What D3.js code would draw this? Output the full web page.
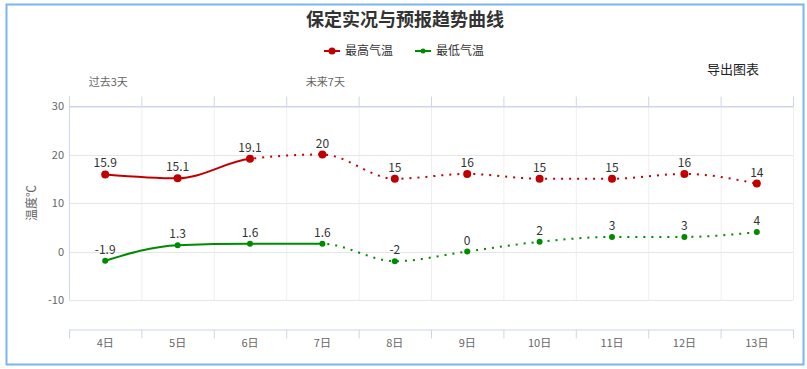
<!DOCTYPE html>
<html>
<head>
<meta charset="utf-8">
<script src="https://cdn.jsdelivr.net/npm/d3@7/dist/d3.min.js"></script>
<style>
  body { margin: 0; background: #fff; }
  text { font-family: "Noto Sans CJK SC", "Noto Sans", sans-serif; }
</style>
</head>
<body>
<div id="chart"></div>
<script>
// chart data
var days = ['4日', '5日', '6日', '7日', '8日', '9日', '10日', '11日', '12日', '13日']
var highTemps = [15.9, 15.1, 19.1, 20, 15, 16, 15, 15, 16, 14]
var lowTemps = [-1.9, 1.3, 1.6, 1.6, -2, 0, 2, 3, 3, 4]
var yTicks = [-10, 0, 10, 20, 30]
var periodLabels = [{ day: '4日', text: '过去3天' }, { day: '7日', text: '未来7天' }]

// solid part ends at this index, dotted afterwards
var highSplit = 2
var lowSplit = 3

var svgWidth = 807
var svgHeight = 369

var plot = { left: 69, right: 793, top: 106, bottom: 300 }
var bottomAxisY = 329

var svg = d3.select('#chart')
  .append('svg')
  .attr('width', svgWidth)
  .attr('height', svgHeight)

// outer frame
svg.append('rect')
  .attr('x', 6.5)
  .attr('y', 4.5)
  .attr('width', 797)
  .attr('height', 360)
  .attr('fill', '#fff')
  .attr('stroke', '#7cb5ec')
  .attr('stroke-width', 2)

var xScale = d3.scaleBand()
  .domain(days)
  .range([plot.left, plot.right])

var yScale = d3.scaleLinear()
  .domain([-10, 30])
  .range([plot.bottom, plot.top])

var cx = d => xScale(d) + xScale.bandwidth() / 2

// vertical grid lines at band edges
var edges = days.map(d => xScale(d)).concat([plot.right])
svg.append('g')
  .selectAll('line')
  .data(edges.slice(1))
  .enter()
  .append('line')
  .attr('x1', d => d + 0.5)
  .attr('x2', d => d + 0.5)
  .attr('y1', plot.top)
  .attr('y2', plot.bottom)
  .attr('stroke', '#efefef')

// horizontal grid lines
svg.append('g')
  .selectAll('line')
  .data(yTicks.filter(t => t !== 30))
  .enter()
  .append('line')
  .attr('x1', plot.left)
  .attr('x2', plot.right)
  .attr('y1', d => Math.round(yScale(d)) + 0.5)
  .attr('y2', d => Math.round(yScale(d)) + 0.5)
  .attr('stroke', '#e6e6e6')

// left axis line
svg.append('line')
  .attr('x1', plot.left + 0.5).attr('x2', plot.left + 0.5)
  .attr('y1', plot.top - 10).attr('y2', plot.bottom)
  .attr('stroke', '#ccd6eb')

// top axis (past / future)
var topAxis = d3.axisTop(xScale).tickSize(0).tickFormat('')
var topG = svg.append('g')
  .attr('transform', `translate(0, ${plot.top + 0.5})`)
  .call(topAxis)
topG.select('.domain').attr('stroke', '#ccd6eb')
topG.selectAll('.edge')
  .data(edges)
  .enter()
  .append('line')
  .attr('x1', d => d + 0.5).attr('x2', d => d + 0.5)
  .attr('y1', 0).attr('y2', -10)
  .attr('stroke', '#ccd6eb')

svg.append('g')
  .selectAll('text')
  .data(periodLabels)
  .enter()
  .append('text')
  .attr('x', d => cx(d.day) + 3)
  .attr('y', 86)
  .attr('text-anchor', 'middle')
  .style('font-size', '11px')
  .style('fill', '#666')
  .text(d => d.text)

// bottom axis
var bottomAxis = d3.axisBottom(xScale).tickSize(0).tickPadding(10)
var bottomG = svg.append('g')
  .attr('transform', `translate(0, ${bottomAxisY + 0.5})`)
  .call(bottomAxis)
bottomG.select('.domain').attr('stroke', '#ccd6eb')
bottomG.selectAll('.tick text')
  .style('font-size', '11px')
  .style('fill', '#666')
  .style('font-family', '"Noto Sans CJK SC", sans-serif')
bottomG.selectAll('.edge')
  .data(edges)
  .enter()
  .append('line')
  .attr('x1', d => d + 0.5).attr('x2', d => d + 0.5)
  .attr('y1', 0).attr('y2', 9)
  .attr('stroke', '#ccd6eb')

// left axis labels
var leftAxis = d3.axisLeft(yScale).tickValues(yTicks).tickSize(0).tickPadding(5)
var leftG = svg.append('g')
  .attr('transform', `translate(${plot.left}, 0)`)
  .call(leftAxis)
leftG.select('.domain').remove()
leftG.selectAll('.tick text')
  .style('font-size', '11px')
  .style('fill', '#666')
  .style('font-family', '"Noto Sans CJK SC", sans-serif')
  .text(d => d < 0 ? '-' + Math.abs(d) : d)

// top line of plot (30) in axis colour
svg.append('line')
  .attr('x1', plot.left).attr('x2', plot.right)
  .attr('y1', Math.round(yScale(30)) + 0.5).attr('y2', Math.round(yScale(30)) + 0.5)
  .attr('stroke', '#ccd6eb')

// y axis title
svg.append('text')
  .attr('transform', 'translate(36, 203) rotate(-90)')
  .attr('text-anchor', 'middle')
  .style('font-size', '12px')
  .style('fill', '#666')
  .text('温度℃')

// title
svg.append('text')
  .attr('x', 405)
  .attr('y', 26)
  .attr('text-anchor', 'middle')
  .style('font-size', '18px')
  .style('font-weight', 'bold')
  .style('fill', '#333')
  .text('保定实况与预报趋势曲线')

// export button text
svg.append('text')
  .attr('x', 707)
  .attr('y', 74)
  .style('font-size', '13px')
  .style('fill', '#222')
  .text('导出图表')

// series
var series = [
  { name: '最高气温', values: highTemps, split: highSplit, color: '#c00000', r: 4, lr: 3.5, legendX: 324 },
  { name: '最低气温', values: lowTemps, split: lowSplit, color: '#008a00', r: 3, lr: 2.5, legendX: 415 }
]

var line = d3.line()
  .x(d => cx(d.day))
  .y(d => yScale(d.value))
  .curve(d3.curveMonotoneX)

var defs = svg.append('defs')

series.forEach((s, i) => {
  var pts = days.map((d, j) => ({ day: d, value: s.values[j] }))
  var splitX = cx(days[s.split])

  defs.append('clipPath').attr('id', 'solid' + i)
    .append('rect').attr('x', 0).attr('y', 0).attr('width', splitX).attr('height', svgHeight)
  defs.append('clipPath').attr('id', 'dot' + i)
    .append('rect').attr('x', splitX).attr('y', 0).attr('width', svgWidth - splitX).attr('height', svgHeight)

  svg.append('path')
    .datum(pts)
    .attr('d', line)
    .attr('fill', 'none')
    .attr('stroke', s.color)
    .attr('stroke-width', 2)
    .attr('clip-path', `url(#solid${i})`)

  svg.append('path')
    .datum(pts)
    .attr('d', line)
    .attr('fill', 'none')
    .attr('stroke', s.color)
    .attr('stroke-width', 2)
    .attr('stroke-dasharray', '2,6')
    .attr('clip-path', `url(#dot${i})`)

  svg.append('g')
    .selectAll('circle')
    .data(pts)
    .enter()
    .append('circle')
    .attr('cx', d => cx(d.day))
    .attr('cy', d => yScale(d.value))
    .attr('r', s.r)
    .attr('fill', s.color)

  svg.append('g')
    .selectAll('text')
    .data(pts)
    .enter()
    .append('text')
    .attr('x', d => cx(d.day))
    .attr('y', d => yScale(d.value) - 7)
    .attr('text-anchor', 'middle')
    .style('font-size', '12px')
    .style('fill', '#333')
    .text(d => d.value < 0 ? '-' + Math.abs(d.value) : d.value)

  // legend
  var lg = svg.append('g').attr('transform', `translate(${s.legendX}, 51)`)
  lg.append('line')
    .attr('x1', 0).attr('x2', 16)
    .attr('stroke', s.color)
    .attr('stroke-width', 2)
  lg.append('circle')
    .attr('cx', 8)
    .attr('r', s.lr)
    .attr('fill', s.color)
  lg.append('text')
    .attr('x', 21)
    .attr('y', 4)
    .style('font-size', '12px')
    .style('fill', '#333')
    .text(s.name)
})
</script>
</body>
</html>
